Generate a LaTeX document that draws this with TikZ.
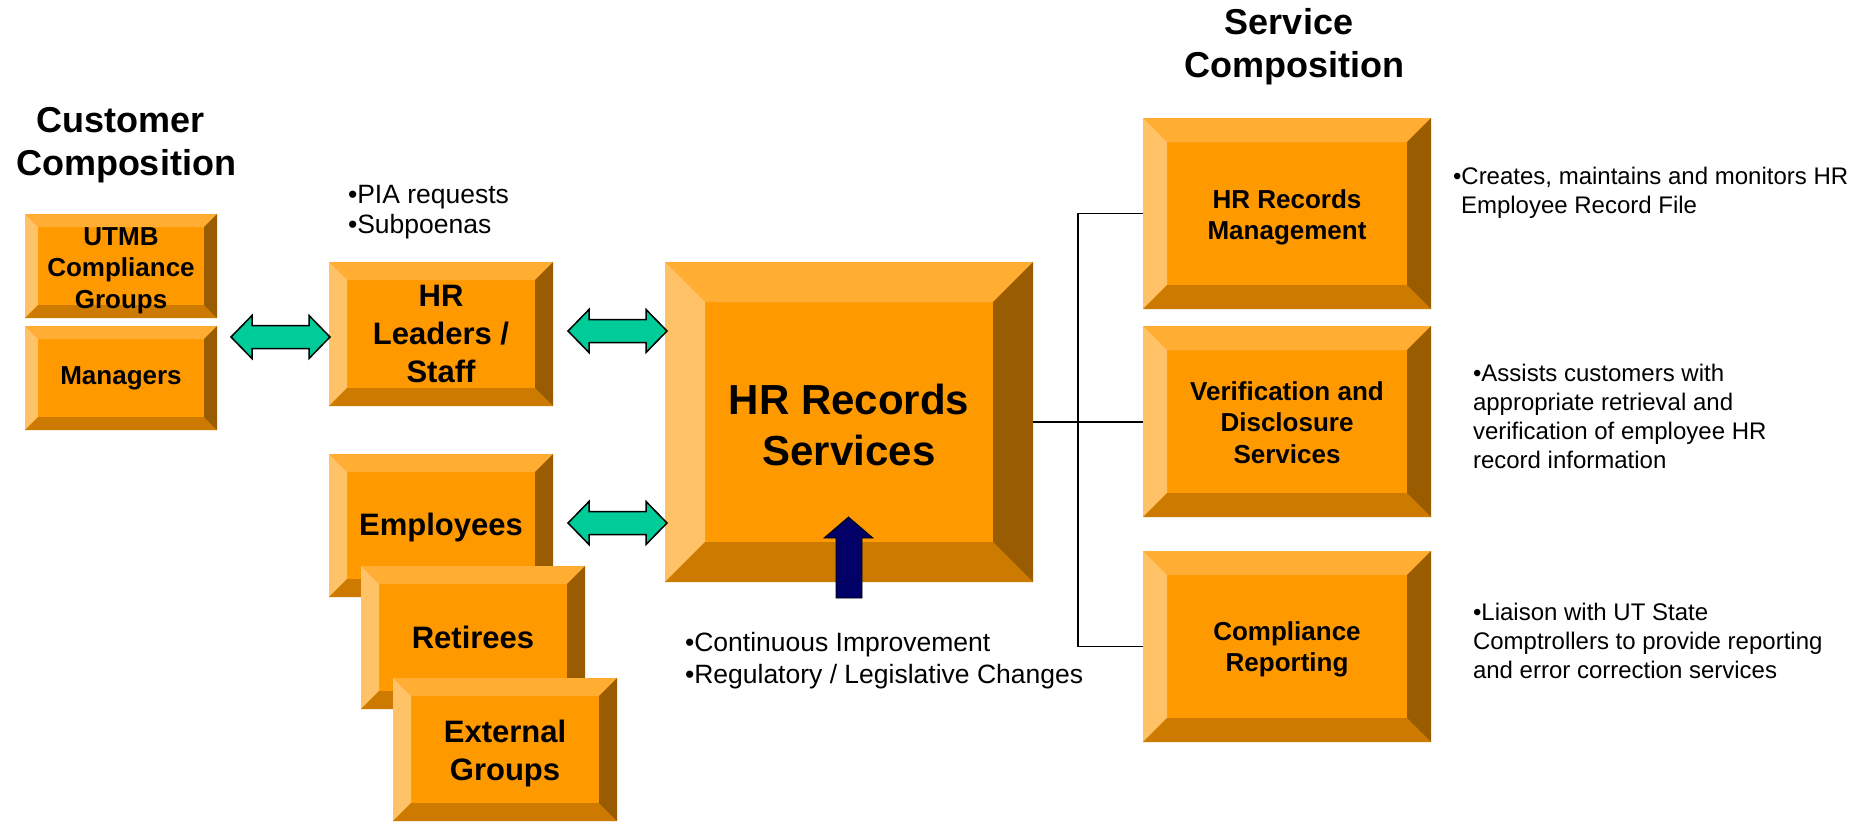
\documentclass[tikz,border=0pt]{standalone}
\usepackage{fontspec}
\setmainfont{Liberation Sans}
\usetikzlibrary{calc}
\definecolor{face}{HTML}{FF9900}
\definecolor{bvtopc}{HTML}{FFAD33}
\definecolor{bvleftc}{HTML}{FFC266}
\definecolor{bvbotc}{HTML}{CC7A00}
\definecolor{bvrightc}{HTML}{995C00}
\definecolor{arrgreen}{HTML}{00CC99}
\definecolor{arrnavy}{HTML}{000066}
\newcommand{\fsSmall}{\bfseries\fontsize{26}{31.5}\selectfont}
\newcommand{\fsMid}{\bfseries\fontsize{31}{38}\selectfont}
\newcommand{\fsBig}{\bfseries\fontsize{42}{51}\selectfont}
\newcommand{\fsTitle}{\bfseries\fontsize{36}{43}\selectfont}
% #1 name, #2 cx, #3 cy, #4 w, #5 h, #6 bevel, #7 font, #8 text, #9 text offset downwards
\newcommand{\bevelbox}[9]{%
  \node[facebox, minimum width=#4pt, minimum height=#5pt] (#1) at (#2,#3) {};
  \fill[bvtopc] (#1.north west) -- (#1.north east) -- ([shift={(-#6pt,-#6pt)}]#1.north east) -- ([shift={(#6pt,-#6pt)}]#1.north west) -- cycle;
  \fill[bvleftc] (#1.north west) -- ([shift={(#6pt,-#6pt)}]#1.north west) -- ([shift={(#6pt,#6pt)}]#1.south west) -- (#1.south west) -- cycle;
  \fill[bvbotc] (#1.south west) -- (#1.south east) -- ([shift={(-#6pt,#6pt)}]#1.south east) -- ([shift={(#6pt,#6pt)}]#1.south west) -- cycle;
  \fill[bvrightc] (#1.north east) -- (#1.south east) -- ([shift={(-#6pt,#6pt)}]#1.south east) -- ([shift={(-#6pt,-#6pt)}]#1.north east) -- cycle;
  \node[boxtext, font=#7] (#1-t) at ([yshift=-#9pt]#1.center) {#8};
}
% double arrow: #1 x left, #2 x right, #3 y centre
\newcommand{\dblarrow}[3]{%
  \draw[dblarr] (#1,#3) -- (#1+21,#3-21.5) -- (#1+21,#3-11.5) -- (#2-21,#3-11.5) -- (#2-21,#3-21.5) -- (#2,#3)
    -- (#2-21,#3+21.5) -- (#2-21,#3+11.5) -- (#1+21,#3+11.5) -- (#1+21,#3+21.5) -- cycle;
}
\tikzset{
  facebox/.style={rectangle, fill=face, draw=none, inner sep=0pt, outer sep=0pt},
  boxtext/.style={align=center, inner sep=0pt, outer sep=0pt, text=black},
  dblarr/.style={fill=arrgreen, draw=black, line width=1.5pt, line join=miter},
  uparr/.style={fill=arrnavy, draw=black, line width=0.8pt},
  conn/.style={draw=black, line width=1.6pt},
  desc/.style={anchor=base west, align=left, inner sep=0pt, outer sep=0pt},
  title/.style={anchor=base, align=center, inner sep=0pt, font=\fsTitle}
}
\begin{document}
\begin{tikzpicture}[x=1pt,y=-1pt]
\useasboundingbox (0,0) rectangle (1867,822);
\fill[white] (0,0) rectangle (1867,822);

% titles (anchor = baseline of last line)
\node[title] (custtitle) at (126,175) {Customer\hspace*{10pt}\\Composition};
\node[title] (servtitle) at (1294,77) {Service\hspace*{10pt}\\Composition};

% customer boxes
\bevelbox{utmb}{121}{266}{192}{104}{13}{\fsSmall}{UTMB\\Compliance\\Groups}{4.5}
\bevelbox{mgr}{121}{378}{192}{104}{13}{\fsSmall}{Managers}{0}
\bevelbox{lead}{441}{334}{224}{144}{18}{\fsMid}{HR\\Leaders /\\Staff}{0}
\bevelbox{emp}{441}{525.5}{224}{143}{18}{\fsMid}{Employees}{2}
\bevelbox{ret}{473}{637.5}{224}{143}{18}{\fsMid}{Retirees}{0}
\bevelbox{ext}{505}{749.5}{224}{143}{18}{\fsMid}{External\\Groups}{3.5}

% main box
\bevelbox{main}{849}{422}{368}{320}{40}{\fsBig}{HR Records\\Services}{2.5}

% service boxes
\bevelbox{rm}{1287}{213.5}{288}{191}{24}{\fsSmall}{HR Records\\Management}{4}
\bevelbox{ver}{1287}{421.5}{288}{191}{24}{\fsSmall}{Verification and\\Disclosure\\Services}{1}
\bevelbox{comp}{1287}{646.5}{288}{191}{24}{\fsSmall}{Compliance\\Reporting}{3}

% double arrows
\dblarrow{231}{330}{337}
\dblarrow{568}{667}{331}
\dblarrow{568}{667}{523}

% up arrow
\draw[uparr] (848.5,517) -- (873,538) -- (862,538) -- (862,598) -- (836,598) -- (836,538) -- (824,538) -- cycle;

% connectors
\coordinate (jn) at (1078,422);
\draw[conn] (main.east) -- (main.east -| ver.west);
\draw[conn] (rm.west) -- (rm.west -| jn) -- (comp.west -| jn) -- (comp.west);

% descriptions (anchor = baseline of last line)
\node[desc, font=\fontsize{26.5}{30}\selectfont] (pia) at (348,233) {•PIA requests\\•Subpoenas};
\node[desc, font=\fontsize{26.5}{32}\selectfont] (cont) at (685,683) {•Continuous Improvement\\•Regulatory / Legislative Changes};
\node[desc, font=\fontsize{24}{28.5}\selectfont] (dcreate) at (1453,213) {•Creates, maintains and monitors HR\\\hspace*{8pt}Employee Record File};
\node[desc, font=\fontsize{24}{28.8}\selectfont] (dassist) at (1473,468) {•Assists customers with\\appropriate retrieval and\\verification of employee HR\\record information};
\node[desc, font=\fontsize{24}{28.8}\selectfont] (dliaison) at (1473,678.5) {•Liaison with UT State\\Comptrollers to provide reporting\\and error correction services};
\end{tikzpicture}
\end{document}
